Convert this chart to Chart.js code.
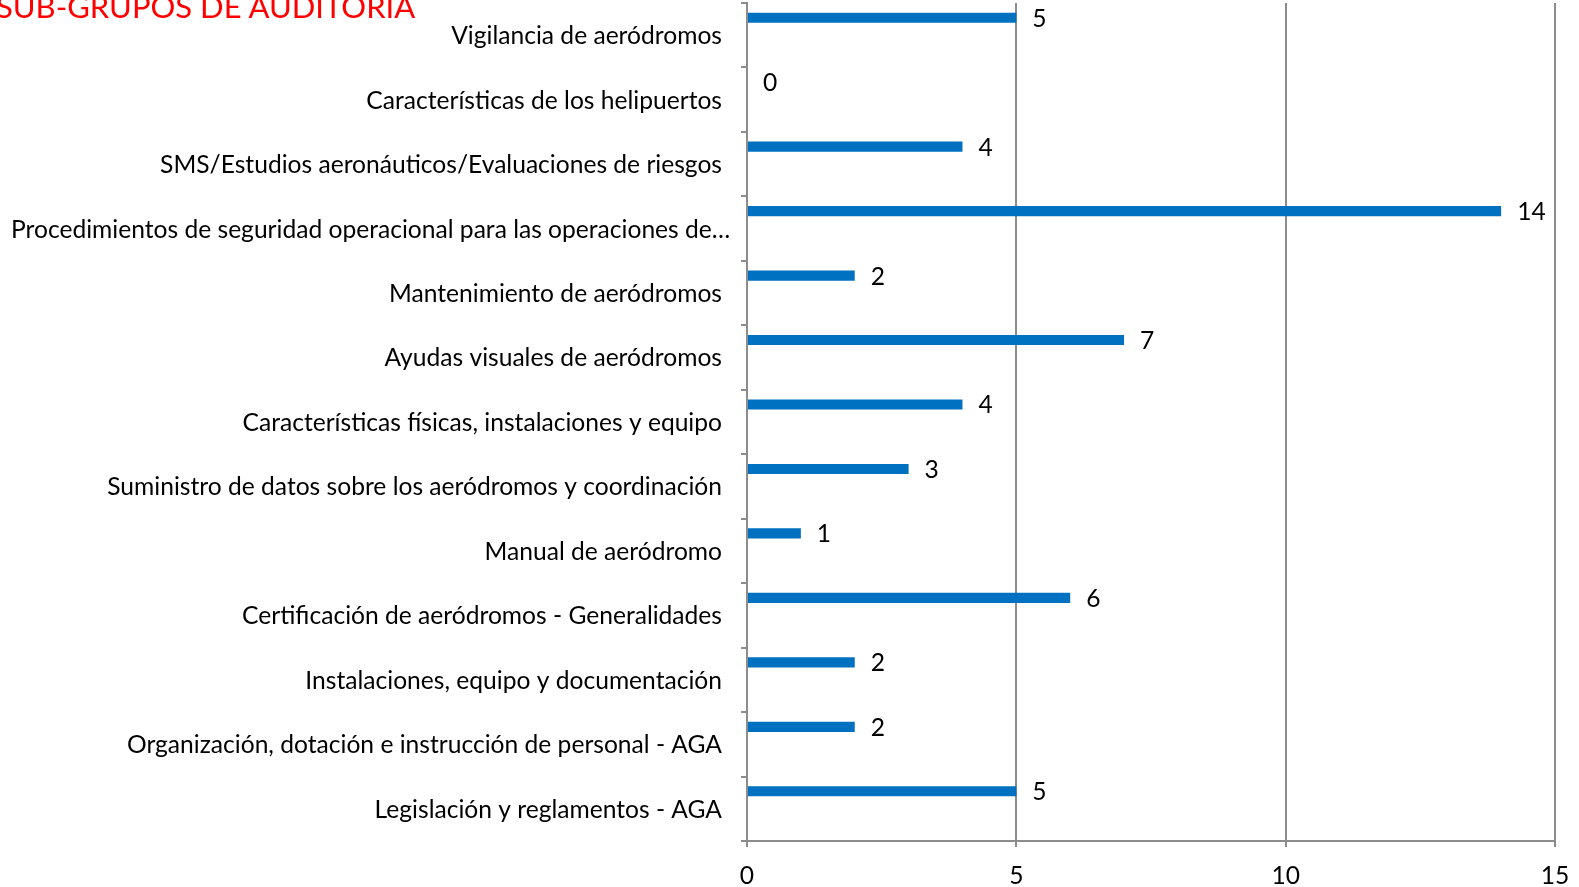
<!DOCTYPE html>
<html>
<head>
<meta charset="utf-8">
<script src="https://cdn.jsdelivr.net/npm/chart.js@4/dist/chart.umd.min.js"></script>
<style>
  body { margin: 0; background: #fff; }
  #wrap { position: relative; width: 1579px; height: 887px; overflow: hidden; }
  #title {
    position: absolute; left: -4px; top: -13px;
    font-family: Lato, sans-serif; font-size: 31px; color: #ff0000;
    white-space: nowrap; z-index: 2;
  }
</style>
</head>
<body>
<div id="wrap">
  <div id="title">SUB-GRUPOS DE AUDITORIA</div>
  <canvas id="auditChart" width="1579" height="887"></canvas>
</div>
<script>
/* ===========================
   DATA (top to bottom)
=========================== */

const subGroups = [
    "Vigilancia de aeródromos",
    "Características de los helipuertos",
    "SMS/Estudios aeronáuticos/Evaluaciones de riesgos",
    "Procedimientos de seguridad operacional para las operaciones de…",
    "Mantenimiento de aeródromos",
    "Ayudas visuales de aeródromos",
    "Características físicas, instalaciones y equipo",
    "Suministro de datos sobre los aeródromos y coordinación",
    "Manual de aeródromo",
    "Certificación de aeródromos - Generalidades",
    "Instalaciones, equipo y documentación",
    "Organización, dotación e instrucción de personal - AGA",
    "Legislación y reglamentos - AGA"
];

const findings = [5, 0, 4, 14, 2, 7, 4, 3, 1, 6, 2, 2, 5];

// empty second series, it only pushes the real bar to the top of each band
const emptySeries = subGroups.map(() => 0);

const xTicks = [0, 5, 10, 15];

const FONT = 'Lato, sans-serif';
const FONT_SIZE = 24.6;

/* ===========================
   LABEL PLUGINS
=========================== */

// numbers at the end of each bar
const valueLabels = {
    id: 'valueLabels',
    afterDatasetsDraw(chart) {
        const c = chart.ctx;
        const meta = chart.getDatasetMeta(0);
        c.save();
        c.font = FONT_SIZE + 'px ' + FONT;
        c.fillStyle = '#000';
        c.textAlign = 'left';
        c.textBaseline = 'middle';
        meta.data.forEach((bar, i) => {
            c.fillText(String(findings[i]), bar.x + 16, bar.y + 1);
        });
        c.restore();
    }
};

// category names, right aligned; a name too long for the space runs past the right edge
const categoryLabels = {
    id: 'categoryLabels',
    afterDraw(chart) {
        const c = chart.ctx;
        const y = chart.scales.y;
        c.save();
        c.font = FONT_SIZE + 'px ' + FONT;
        c.fillStyle = '#000';
        c.textAlign = 'left';
        c.textBaseline = 'middle';
        subGroups.forEach((name, i) => {
            const w = c.measureText(name).width;
            const right = Math.max(722, 11 + w);
            c.fillText(name, right - w, y.getPixelForValue(i) + 1);
        });
        c.restore();
    }
};

/* ===========================
   CHART.JS CONFIGURATION
=========================== */

const ctx = document.getElementById('auditChart');

new Chart(ctx, {
    type: 'bar',
    data: {
        labels: subGroups,
        datasets: [{
            data: findings,
            backgroundColor: '#0070c0'
        }, {
            data: emptySeries,
            backgroundColor: 'rgba(0,0,0,0)'
        }]
    },
    options: {
        indexAxis: 'y',
        responsive: false,
        animation: false,
        datasets: {
            bar: {
                categoryPercentage: 1.085,
                barPercentage: 0.29
            }
        },
        layout: {
            padding: { top: 3, right: 24, bottom: 0, left: 0 }
        },
        scales: {
            x: {
                min: 0,
                max: 15,
                afterBuildTicks: (scale) => {
                    scale.ticks = xTicks.map(v => ({ value: v }));
                },
                afterFit: (scale) => {
                    scale.height = 46;
                    scale.paddingLeft = 0;
                    scale.paddingRight = 0;
                },
                grid: {
                    color: '#8c8c8c',
                    lineWidth: 2,
                    tickLength: 6
                },
                border: { color: '#8c8c8c', width: 2 },
                ticks: {
                    color: '#000',
                    padding: 14,
                    font: { family: FONT, size: FONT_SIZE }
                }
            },
            y: {
                afterFit: (scale) => {
                    scale.width = 747;
                    scale.paddingTop = 0;
                    scale.paddingBottom = 0;
                },
                grid: {
                    drawOnChartArea: false,
                    color: '#8c8c8c',
                    lineWidth: 2,
                    tickLength: 6
                },
                border: { color: '#8c8c8c', width: 2 },
                ticks: { display: false }
            }
        },
        plugins: {
            legend: { display: false },
            tooltip: { enabled: false }
        }
    },
    plugins: [valueLabels, categoryLabels]
});
</script>
</body>
</html>
